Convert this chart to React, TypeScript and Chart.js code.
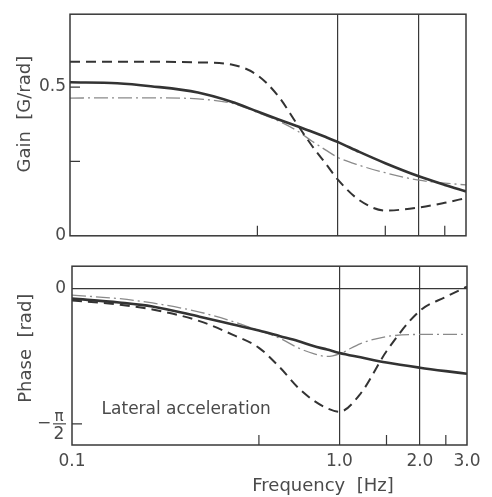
import React, { useEffect, useRef } from 'react';
import { Chart, registerables } from 'chart.js';

Chart.register(...registerables);

// ---------- data ----------
const frequencies = [0.1, 0.15, 0.2, 0.3, 0.4, 0.5, 0.6, 0.7, 0.8, 0.9, 1.0, 1.2, 1.5, 2.0, 2.5, 3.0];

const gainSolid = [0.516, 0.513, 0.503, 0.482, 0.451, 0.418, 0.391, 0.369, 0.35, 0.332, 0.315, 0.282, 0.244, 0.2, 0.171, 0.149];
const gainDashed = [0.585, 0.585, 0.585, 0.583, 0.576, 0.54, 0.468, 0.378, 0.302, 0.242, 0.188, 0.12, 0.085, 0.095, 0.111, 0.127];
const gainDashDot = [0.463, 0.464, 0.464, 0.46, 0.446, 0.415, 0.386, 0.354, 0.318, 0.288, 0.263, 0.237, 0.212, 0.187, 0.177, 0.171];

const phaseSolid = [-0.12, -0.165, -0.21, -0.33, -0.42, -0.49, -0.555, -0.61, -0.67, -0.71, -0.75, -0.8, -0.86, -0.92, -0.96, -0.99];
const phaseDashed = [-0.14, -0.19, -0.245, -0.38, -0.54, -0.69, -0.92, -1.15, -1.3, -1.39, -1.43, -1.22, -0.73, -0.26, -0.1, 0.02];
const phaseDashDot = [-0.08, -0.12, -0.17, -0.275, -0.385, -0.49, -0.58, -0.69, -0.757, -0.79, -0.76, -0.64, -0.56, -0.535, -0.535, -0.535];

const xTickValues = [0.1, 0.5, 1, 1.5, 2, 2.5, 3];
const xTickLabels = ['0.1', '', '1.0', '', '2.0', '', '3.0'];
const xRefLines = [1, 2];
const xMinorTicks = [0.5, 1.5, 2.5];

const gainTickValues = [0, 0.25, 0.5];
const gainTickLabels = ['0', '', '0.5'];
const gainMinorTicks = [0.25, 0.5];
const gainRange = [0, 0.745];

const phaseTickValues = [0, -Math.PI / 2];
const phaseTickLabels = ['0', ''];
const phaseMinorTicks = [-Math.PI / 2];
const phaseRange = [-1.816, 0.256];

const annotationText = 'Lateral acceleration';
const annotationFreq = 0.129;
const annotationPhase = -1.459;

// ---------- styles ----------
const FONT = '"DejaVu Sans", "Liberation Sans", sans-serif';
const INK = '#383838';
const TEXT = '#4a4a4a';
const CLEAR = 'rgba(0,0,0,0)';

const seriesStyles = [
  { label: 'Solid', color: '#333333', width: 2.6, dash: [] as number[] },
  { label: 'Dashed', color: '#333333', width: 2, dash: [10, 6] },
  { label: 'Dash-dot', color: '#8a8a8a', width: 1.3, dash: [14, 4, 2, 4] },
];

const framePlugin = {
  id: 'frame',
  afterDraw(chart: any, _args: any, opts: any) {
    const { ctx, chartArea: a, scales } = chart;
    ctx.save();
    ctx.strokeStyle = INK;
    ctx.lineWidth = 1.5;
    ctx.strokeRect(a.left, a.top, a.right - a.left, a.bottom - a.top);
    ctx.lineWidth = 1.2;
    ctx.beginPath();
    for (const v of opts.xMinor || []) {
      const px = scales.x.getPixelForValue(v);
      ctx.moveTo(px, a.bottom);
      ctx.lineTo(px, a.bottom - 10);
    }
    for (const v of opts.yMinor || []) {
      const py = scales.y.getPixelForValue(v);
      ctx.moveTo(a.left, py);
      ctx.lineTo(a.left + 10, py);
    }
    ctx.stroke();
    ctx.fillStyle = TEXT;
    for (const t of opts.texts || []) {
      const [x, y] = t.pos(chart);
      ctx.save();
      ctx.font = t.font;
      ctx.textAlign = t.align || 'center';
      ctx.textBaseline = t.baseline || 'alphabetic';
      ctx.translate(x, y);
      if (t.rotate) ctx.rotate(t.rotate);
      ctx.fillText(t.text, 0, 0);
      ctx.restore();
    }
    if (opts.fraction) {
      const py = scales.y.getPixelForValue(opts.fraction.value);
      const cx = a.left - 13;
      ctx.font = `17px ${FONT}`;
      ctx.textAlign = 'center';
      ctx.textBaseline = 'middle';
      ctx.fillText('\u2212', a.left - 28, py);
      ctx.font = `15px ${FONT}`;
      ctx.textBaseline = 'alphabetic';
      ctx.fillText('\u03c0', cx, py - 3);
      ctx.font = `17px ${FONT}`;
      ctx.textBaseline = 'top';
      ctx.fillText('2', cx, py + 2);
      ctx.strokeStyle = TEXT;
      ctx.lineWidth = 1.2;
      ctx.beginPath();
      ctx.moveTo(a.left - 19, py);
      ctx.lineTo(a.left - 6, py);
      ctx.stroke();
    }
    ctx.restore();
  },
};

function makeDatasets(series: number[][]) {
  return series.map((vals, i) => ({
    label: seriesStyles[i].label,
    data: frequencies.map((f, j) => ({ x: f, y: vals[j] })),
    borderColor: seriesStyles[i].color,
    borderWidth: seriesStyles[i].width,
    borderDash: seriesStyles[i].dash,
    pointRadius: 0,
    fill: false,
    cubicInterpolationMode: 'monotone' as const,
  }));
}

function xScale(showLabels: boolean, height: number) {
  return {
    type: 'logarithmic' as const,
    min: 0.1,
    max: 3,
    afterBuildTicks: (s: any) => {
      s.ticks = xTickValues.map((v) => ({ value: v }));
    },
    afterFit: (s: any) => {
      s.height = height;
    },
    ticks: {
      display: showLabels,
      autoSkip: false,
      maxRotation: 0,
      padding: 6,
      color: TEXT,
      font: { family: FONT, size: 17 },
      callback: (_v: any, i: number) => xTickLabels[i],
    },
    grid: {
      drawTicks: false,
      lineWidth: 1.2,
      color: (c: any) => (c.tick && xRefLines.includes(c.tick.value) ? INK : CLEAR),
    },
    border: { display: false },
  };
}

function GainChart() {
  const ref = useRef<HTMLCanvasElement>(null);
  useEffect(() => {
    const chart = new Chart(ref.current!, {
      type: 'line',
      data: { datasets: makeDatasets([gainSolid, gainDashed, gainDashDot]) as any },
      plugins: [framePlugin as any],
      options: {
        responsive: false,
        animation: false,
        devicePixelRatio: 1,
        layout: { padding: { left: 0, right: 26, top: 7, bottom: 0 } },
        plugins: {
          legend: { display: false },
          tooltip: { enabled: false },
          frame: {
            xMinor: xMinorTicks,
            yMinor: gainMinorTicks,
            texts: [
              {
                text: 'Gain  [G/rad]',
                font: `18px ${FONT}`,
                rotate: -Math.PI / 2,
                baseline: 'middle',
                pos: (c: any) => [c.chartArea.left - 45, c.chartArea.top + 100],
              },
            ],
          },
        } as any,
        scales: {
          x: xScale(false, 8) as any,
          y: {
            min: gainRange[0],
            max: gainRange[1],
            afterBuildTicks: (s: any) => {
              s.ticks = gainTickValues.map((v) => ({ value: v }));
            },
            afterFit: (s: any) => {
              s.width = 70;
            },
            ticks: {
              padding: 4,
              color: TEXT,
              font: { family: FONT, size: 17 },
              callback: (_v: any, i: number) => gainTickLabels[i],
            },
            grid: { display: false, drawTicks: false },
            border: { display: false },
          },
        },
      },
    });
    return () => chart.destroy();
  }, []);
  return <canvas ref={ref} width={492} height={250} style={{ position: 'absolute', left: 0, top: 0, display: 'block' }} />;
}

function PhaseChart() {
  const ref = useRef<HTMLCanvasElement>(null);
  useEffect(() => {
    const chart = new Chart(ref.current!, {
      type: 'line',
      data: { datasets: makeDatasets([phaseSolid, phaseDashed, phaseDashDot]) as any },
      plugins: [framePlugin as any],
      options: {
        responsive: false,
        animation: false,
        devicePixelRatio: 1,
        layout: { padding: { left: 0, right: 25, top: 9, bottom: 0 } },
        plugins: {
          legend: { display: false },
          tooltip: { enabled: false },
          frame: {
            xMinor: xMinorTicks,
            yMinor: phaseMinorTicks,
            fraction: { value: -Math.PI / 2 },
            texts: [
              {
                text: 'Phase  [rad]',
                font: `18px ${FONT}`,
                rotate: -Math.PI / 2,
                baseline: 'middle',
                pos: (c: any) => [c.chartArea.left - 46, c.chartArea.top + 82],
              },
              {
                text: 'Frequency  [Hz]',
                font: `18px ${FONT}`,
                baseline: 'alphabetic',
                pos: (c: any) => [c.chartArea.left + 251, c.chartArea.bottom + 46],
              },
              {
                text: annotationText,
                font: `17px ${FONT}`,
                align: 'left',
                baseline: 'alphabetic',
                pos: (c: any) => [c.scales.x.getPixelForValue(annotationFreq), c.scales.y.getPixelForValue(annotationPhase)],
              },
            ],
          },
        } as any,
        scales: {
          x: xScale(true, 52) as any,
          y: {
            min: phaseRange[0],
            max: phaseRange[1],
            afterBuildTicks: (s: any) => {
              s.ticks = phaseTickValues.map((v) => ({ value: v }));
            },
            afterFit: (s: any) => {
              s.width = 72;
            },
            ticks: {
              padding: 6,
              color: TEXT,
              font: { family: FONT, size: 17 },
              callback: (_v: any, i: number) => phaseTickLabels[i],
            },
            grid: {
              drawTicks: false,
              lineWidth: 1.2,
              color: (c: any) => (c.tick && c.tick.value === 0 ? INK : CLEAR),
            },
            border: { display: false },
          },
        },
      },
    });
    return () => chart.destroy();
  }, []);
  return <canvas ref={ref} width={492} height={247} style={{ position: 'absolute', left: 0, top: 250, display: 'block' }} />;
}

export default function App() {
  return (
    <div style={{ position: 'fixed', left: 0, top: 0, width: 492, height: 497, background: '#fff', overflow: 'hidden' }}>
      <GainChart />
      <PhaseChart />
    </div>
  );
}
